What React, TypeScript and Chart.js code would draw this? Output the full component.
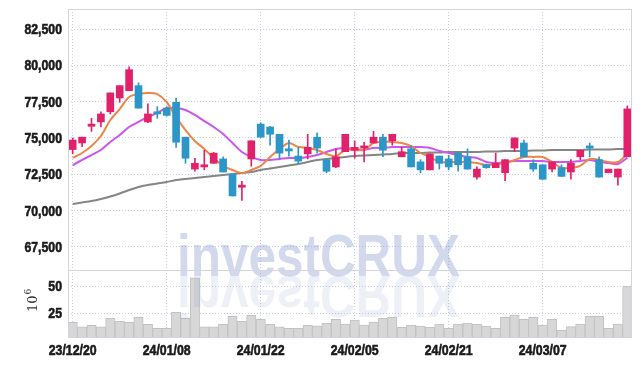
import { useEffect, useRef } from 'react';
import { Chart, registerables } from 'chart.js';

Chart.register(...registerables);

const dates = [
  '23/12/20', '23/12/21', '23/12/22', '23/12/26', '23/12/27', '23/12/28',
  '24/01/02', '24/01/03', '24/01/04', '24/01/05', '24/01/08', '24/01/09',
  '24/01/10', '24/01/11', '24/01/12', '24/01/15', '24/01/16', '24/01/17',
  '24/01/18', '24/01/19', '24/01/22', '24/01/23', '24/01/24', '24/01/25',
  '24/01/26', '24/01/29', '24/01/30', '24/01/31', '24/02/01', '24/02/02',
  '24/02/05', '24/02/06', '24/02/07', '24/02/08', '24/02/13', '24/02/14',
  '24/02/15', '24/02/16', '24/02/19', '24/02/20', '24/02/21', '24/02/22',
  '24/02/23', '24/02/26', '24/02/27', '24/02/28', '24/02/29', '24/03/04',
  '24/03/05', '24/03/06', '24/03/07', '24/03/08', '24/03/11', '24/03/12',
  '24/03/13', '24/03/14', '24/03/15', '24/03/18', '24/03/19', '24/03/20',
];

const tickDates = ['23/12/20', '24/01/08', '24/01/22', '24/02/05', '24/02/21', '24/03/07'];

const opens = [
  74200, 74650, 75800, 76100, 76800, 77750, 78250, 78600, 76100, 76800,
  77050, 77450, 75050, 72850, 73000, 73250, 73550, 72500, 71600, 73550,
  75950, 75750, 75250, 74250, 73750, 73900, 75050, 73500, 73000, 74050,
  74150, 74300, 74650, 75050, 74800, 73700, 74250, 73350, 72800, 73750,
  73550, 73950, 73700, 72300, 73150, 72950, 72600, 74300, 74650, 73250,
  73150, 72850, 72950, 72650, 73700, 74450, 73500, 72600, 72300, 73700,
];
const highs = [
  75000, 75050, 76350, 76800, 78100, 78600, 79900, 78800, 77350, 77150,
  77150, 77750, 75050, 73600, 74150, 74000, 73700, 72500, 72000, 74800,
  76050, 75800, 75250, 74850, 74350, 75250, 75350, 73550, 74250, 75250,
  74800, 74700, 75450, 75250, 75250, 74350, 74450, 73500, 73900, 73750,
  73800, 74050, 74250, 73000, 73200, 73950, 73500, 75000, 74850, 73500,
  73150, 73350, 73150, 73500, 74150, 74650, 73700, 72850, 72850, 77200,
];
const lows = [
  73900, 74400, 75450, 75750, 76650, 77450, 78250, 77050, 76050, 76350,
  76500, 74350, 73250, 72700, 72800, 73250, 72650, 71000, 70700, 73050,
  75050, 74500, 73550, 73750, 73250, 73550, 73950, 72600, 72950, 74050,
  73600, 73350, 74650, 73700, 74500, 73700, 73000, 72600, 72800, 72850,
  72800, 72700, 72850, 72150, 72900, 72950, 72050, 74050, 73700, 72700,
  72150, 72650, 72350, 72150, 73500, 73700, 72300, 72600, 71750, 73700,
];
const closes = [
  74850, 75050, 75950, 76650, 78100, 78600, 79700, 77050, 76650, 76650,
  76550, 74700, 73600, 73250, 73150, 73950, 72650, 71000, 71750, 74800,
  75050, 75250, 73950, 74100, 73400, 74350, 74300, 72700, 73700, 75250,
  74350, 74450, 75050, 74150, 75250, 74050, 73000, 72800, 73900, 73250,
  73000, 73150, 72850, 72850, 72950, 73250, 73500, 75000, 73700, 72850,
  72150, 73350, 72350, 73250, 74150, 74300, 72300, 72850, 72850, 77000,
];

// volume in millions of shares
const volumes = [
  16.8, 12.7, 14.0, 12.7, 20.4, 17.7, 16.8, 21.3, 14.9, 11.3,
  11.3, 25.9, 20.4, 57.6, 12.7, 12.7, 14.9, 22.3, 17.7, 23.2,
  19.5, 14.9, 12.7, 11.3, 11.3, 14.0, 13.5, 15.8, 19.5, 15.2,
  18.9, 14.3, 17.0, 20.4, 21.3, 12.2, 14.3, 13.4, 12.2, 15.2,
  11.3, 15.2, 16.1, 14.9, 13.4, 11.3, 21.3, 23.4, 19.5, 21.3,
  14.3, 19.5, 9.4, 12.8, 15.2, 22.3, 22.3, 11.3, 15.2, 50.0,
];

const maShort = [
  73620, 73960, 74440, 75130, 76230, 76990, 77820, 78020, 78090, 78020,
  77470, 76440, 75540, 74790, 74240, 73620, 73070, 72790, 72580, 72790,
  73070, 73690, 74240, 74650, 74370, 74310, 74170, 73890, 73750, 74170,
  74170, 74170, 74650, 74720, 74720, 74650, 74440, 73960, 73690, 73340,
  73340, 73340, 73340, 73270, 73130, 73200, 73270, 73480, 73690, 73690,
  73690, 73340, 72930, 72930, 73070, 73550, 73480, 73340, 73340, 73890,
];
const maMid = [
  73130, 73480, 73820, 74170, 74720, 75200, 75750, 76100, 76440, 76720,
  77060, 77060, 76920, 76580, 76160, 75750, 75270, 74650, 74030, 73690,
  73480, 73480, 73550, 73620, 73620, 73690, 73820, 74030, 74240, 74310,
  74240, 74170, 74310, 74310, 74370, 74370, 74370, 74370, 74310, 74100,
  73960, 73820, 73690, 73620, 73340, 73270, 73340, 73410, 73410, 73410,
  73410, 73340, 73340, 73340, 73410, 73480, 73340, 73270, 73200, 73620,
];
const maLong = [
  70450, 70550, 70650, 70790, 70960, 71170, 71410, 71620, 71760, 71860,
  71960, 72100, 72170, 72240, 72310, 72380, 72450, 72510, 72580, 72650,
  72790, 72890, 73000, 73100, 73200, 73340, 73480, 73550, 73620, 73690,
  73750, 73790, 73820, 73860, 73890, 73960, 73960, 73960, 74000, 74000,
  74030, 74030, 74030, 74030, 74060, 74060, 74100, 74100, 74100, 74130,
  74130, 74170, 74170, 74170, 74170, 74200, 74200, 74200, 74240, 74240,
];

const priceTicks = [67500, 70000, 72500, 75000, 77500, 80000, 82500];
const volumeTicks = [25, 50];

const LABEL_FONT = 'bold 15px "Liberation Sans", Arimo, "DejaVu Sans", sans-serif';
const LABEL_SQUEEZE = 0.82;
const RED = '#e2216b';
const BLUE = '#2c96c9';
const GRID = '#c9cde2';

function narrowText(c: CanvasRenderingContext2D, text: string, x: number, y: number, align: 'left' | 'center' | 'right') {
  const w = c.measureText(text).width * LABEL_SQUEEZE;
  let x0 = x;
  if (align === 'center') x0 = x - w / 2;
  if (align === 'right') x0 = x - w;
  c.save();
  c.translate(x0, y);
  c.scale(LABEL_SQUEEZE, 1);
  c.textAlign = 'left';
  c.lineWidth = 0.6;
  c.strokeStyle = c.fillStyle as string;
  c.strokeText(text, 0, 0);
  c.fillText(text, 0, 0);
  c.restore();
}

export default function App() {
  const ref = useRef<HTMLCanvasElement | null>(null);

  useEffect(() => {
    if (!ref.current) return;
    const colors = closes.map((c, i) => (c >= opens[i] ? RED : BLUE));
    const bodies = opens.map((o, i) => [Math.min(o, closes[i]), Math.max(o, closes[i])]);
    const wicks = lows.map((l, i) => [l, highs[i]]);

    const decor = {
      id: 'decor',
      beforeDraw(chart: any) {
        const c = chart.ctx;
        c.save();
        c.fillStyle = '#ffffff';
        c.fillRect(0, 0, chart.width, chart.height);
        c.restore();
      },
      afterDatasetsDraw(chart: any) {
        const c = chart.ctx;
        const a = chart.chartArea;
        const py = chart.scales.y;
        const vy = chart.scales.v;
        const xs = chart.scales.x;
        c.save();
        // watermark
        c.font = 'bold 60px "Liberation Sans", "DejaVu Sans", sans-serif';
        c.textBaseline = 'alphabetic';
        const t1 = 'invest';
        const t2 = 'CRUX';
        const w1 = c.measureText(t1).width;
        const w2 = c.measureText(t2).width;
        const sx = 283 / (w1 + w2);
        c.translate(177, 276);
        c.scale(sx, 1);
        c.fillStyle = 'rgba(120,140,200,0.33)';
        c.fillText(t1, 0, 0);
        c.fillText(t2, w1, 0);
        c.scale(1, -1);
        c.fillStyle = 'rgba(120,140,200,0.13)';
        c.fillText(t1, 0, 0);
        c.fillText(t2, w1, 0);
        c.restore();

        c.save();
        c.strokeStyle = '#d4d4e0';
        c.lineWidth = 1;
        c.strokeRect(Math.round(a.left) + 0.5, Math.round(a.top) + 0.5, Math.round(a.right - a.left) - 1, Math.round(a.bottom - a.top));
        c.beginPath();
        c.moveTo(a.left, Math.round(py.bottom) + 0.5);
        c.lineTo(a.right, Math.round(py.bottom) + 0.5);
        c.stroke();

        // tick labels
        c.fillStyle = '#1a1a1a';
        c.font = LABEL_FONT;
        c.textBaseline = 'middle';
        priceTicks.forEach((v) => {
          narrowText(c, v.toLocaleString('en-US'), 62, py.getPixelForValue(v) + 1, 'right');
        });
        volumeTicks.forEach((v) => {
          narrowText(c, String(v), 62, vy.getPixelForValue(v) + 1, 'right');
        });
        c.textBaseline = 'alphabetic';
        dates.forEach((d, i) => {
          if (tickDates.includes(d)) {
            narrowText(c, d, xs.getPixelForValue(i), 355, 'center');
          }
        });

        // volume axis unit
        c.fillStyle = '#333333';
        c.translate(37, 312);
        c.rotate(-Math.PI / 2);
        c.font = '13px "DejaVu Serif", serif';
        c.fillText('10', 0, 0);
        const w10 = c.measureText('10').width;
        c.font = '9px "DejaVu Serif", serif';
        c.fillText('6', w10 + 1, -6);
        c.restore();
      },
    };

    const chart = new Chart(ref.current, {
      type: 'bar',
      data: {
        labels: dates,
        datasets: [
          {
            type: 'line', label: 'MA short', data: maShort, yAxisID: 'y',
            borderColor: '#ee8448', borderWidth: 2, pointRadius: 0, tension: 0.3, order: 3,
          } as any,
          {
            type: 'line', label: 'MA mid', data: maMid, yAxisID: 'y',
            borderColor: '#cc55ee', borderWidth: 2, pointRadius: 0, tension: 0.3, order: 4,
          } as any,
          {
            type: 'line', label: 'MA long', data: maLong, yAxisID: 'y',
            borderColor: '#858585', borderWidth: 2, pointRadius: 0, tension: 0.3, order: 5,
          } as any,
          {
            label: 'body', data: bodies, yAxisID: 'y', backgroundColor: colors,
            barThickness: 7, grouped: false, order: 0,
          } as any,
          {
            label: 'wick', data: wicks, yAxisID: 'y', backgroundColor: colors,
            barThickness: 1, grouped: false, order: 1,
          } as any,
          {
            label: 'volume', data: volumes, yAxisID: 'v', backgroundColor: '#d7d7d7',
            borderColor: '#c2c2c2', borderWidth: 1, barPercentage: 1, categoryPercentage: 1,
            grouped: false, order: 6,
          } as any,
        ],
      },
      options: {
        responsive: false,
        animation: false,
        devicePixelRatio: 1,
        layout: { padding: { left: 0, right: 10, top: 9, bottom: 0 } },
        plugins: { legend: { display: false }, tooltip: { enabled: false } },
        scales: {
          x: {
            offset: true,
            grid: {
              offset: false,
              drawTicks: false,
              color: (ctx: any) => (tickDates.includes(dates[ctx.index]) ? GRID : 'rgba(0,0,0,0)'),
            },
            border: { display: false, dash: [1, 2] },
            ticks: { display: false, autoSkip: false, maxRotation: 0 },
            afterFit: (s: any) => { s.height = 29; },
          },
          v: {
            position: 'left',
            stack: 'main',
            stackWeight: 67,
            min: 3.3,
            max: 64.7,
            grid: { color: GRID, drawTicks: false },
            border: { display: false, dash: [1, 2] },
            afterBuildTicks: (s: any) => { s.ticks = volumeTicks.map((v) => ({ value: v })); },
            ticks: { display: false },
            afterFit: (s: any) => { s.width = 68; },
          },
          y: {
            position: 'left',
            stack: 'main',
            stackWeight: 261,
            min: 65900,
            max: 83880,
            grid: { color: GRID, drawTicks: false },
            border: { display: false, dash: [1, 2] },
            afterBuildTicks: (s: any) => { s.ticks = priceTicks.map((v) => ({ value: v })); },
            ticks: { display: false },
            afterFit: (s: any) => { s.width = 68; },
          },
        } as any,
      },
      plugins: [decor],
    });
    return () => chart.destroy();
  }, []);

  return (
    <div style={{ position: 'fixed', left: 0, top: 0, width: 642, height: 366, background: '#fff' }}>
      <canvas ref={ref} width={642} height={366} style={{ display: 'block', width: 642, height: 366 }} />
    </div>
  );
}
